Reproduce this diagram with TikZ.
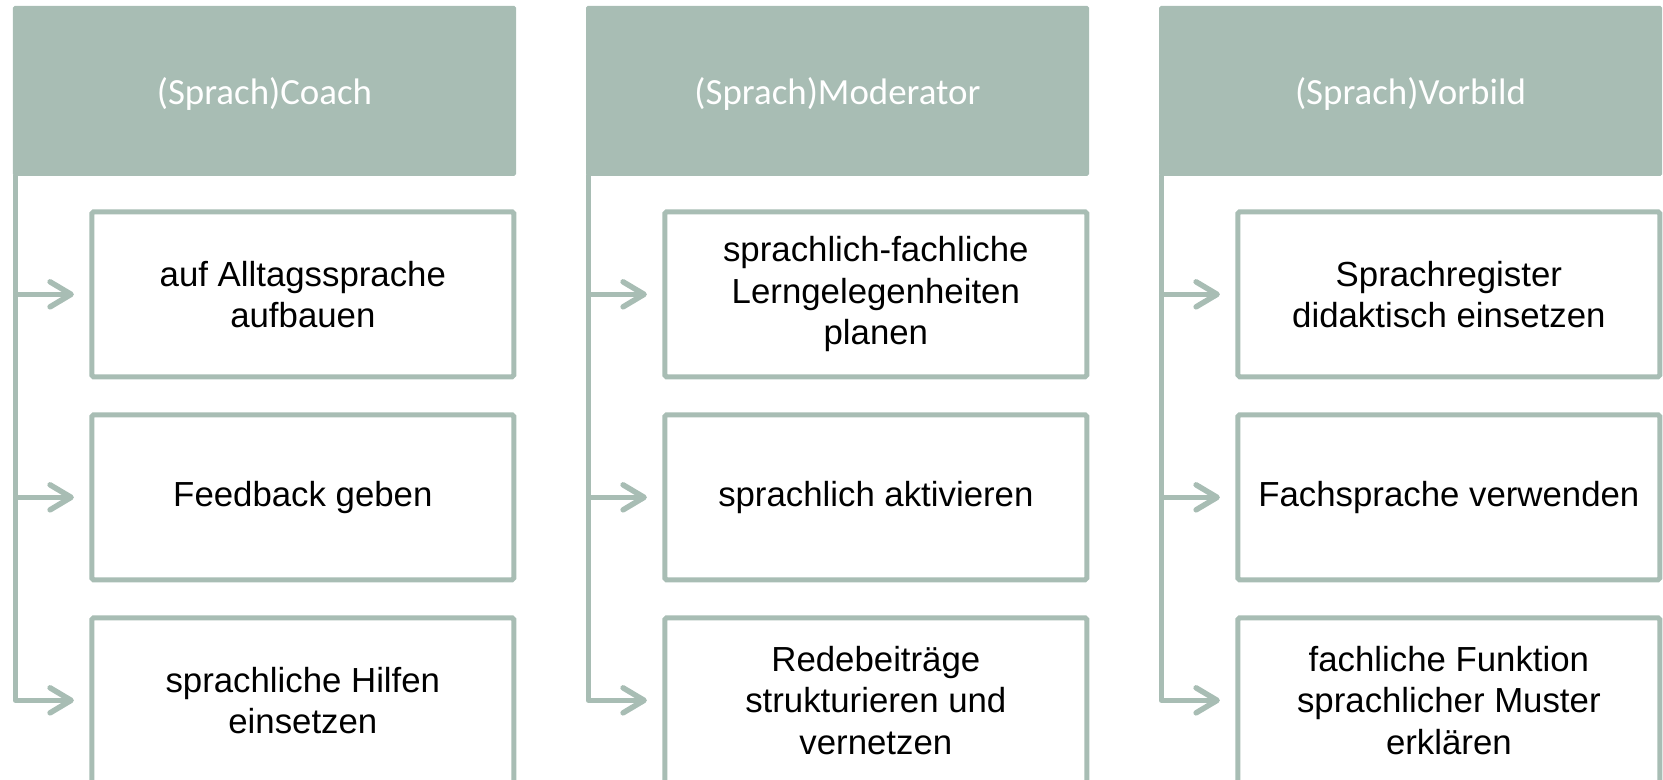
\documentclass[tikz,border=0pt]{standalone}
\usepackage{fontspec}
\setmainfont{Liberation Sans}
\newfontfamily\hdrfont{Carlito}
\usetikzlibrary{positioning,arrows.meta}
\definecolor{sage}{RGB}{168,189,180}
\begin{document}
\begin{tikzpicture}[
        hdr/.style={rectangle, fill=sage, rounded corners=1pt, inner sep=0pt,
                    minimum width=10.06cm, minimum height=3.4cm,
                    text height=20pt, text depth=4.5pt,
                    text=white, font=\hdrfont\fontsize{21}{25}\selectfont},
        task/.style={rectangle, draw=sage, line width=0.1cm, rounded corners=1pt,
                     fill=white, inner sep=2pt, outer sep=0pt, align=center,
                     minimum width=8.44cm, minimum height=3.3cm,
                     font=\fontsize{19.8}{23.6}\selectfont},
        branch/.style={draw=sage, line width=0.11cm, line cap=round, line join=round,
                       -{Straight Barb[length=0.42cm, width=0.5cm, round]},
                       shorten >=0.36cm},
        node distance=0.76cm]

        \useasboundingbox (0,0) rectangle (33.26,15.6);

        % ==================== 第一列：Coach ====================
        \begin{scope}[shift={(0,0)}]
            \node[hdr] (coach) at (5.29,13.78) {(Sprach)Coach};

            \node[task, below left=0.71cm and 0.05cm of coach.south east] (coachA) {auf Alltagssprache\\aufbauen};
            \node[task, below=of coachA] (coachB) {Feedback geben};
            \node[task, below=of coachB] (coachC) {sprachliche Hilfen\\einsetzen};

            % Verbindungslinien
            \draw[branch] ([xshift=0.055cm]coach.south west) |- (coachA.west);
            \draw[branch] ([xshift=0.055cm]coach.south west) |- (coachB.west);
            \draw[branch] ([xshift=0.055cm]coach.south west) |- (coachC.west);
        \end{scope}

        % ==================== 第二列：Moderator ====================
        \begin{scope}[shift={(11.46,0)}]
            \node[hdr] (moder) at (5.29,13.78) {(Sprach)Moderator};

            \node[task, below left=0.71cm and 0.05cm of moder.south east] (moderA) {sprachlich-fachliche\\Lerngelegenheiten\\planen};
            \node[task, below=of moderA] (moderB) {sprachlich aktivieren};
            \node[task, below=of moderB] (moderC) {Redebeiträge\\strukturieren und\\vernetzen};

            % Verbindungslinien
            \draw[branch] ([xshift=0.055cm]moder.south west) |- (moderA.west);
            \draw[branch] ([xshift=0.055cm]moder.south west) |- (moderB.west);
            \draw[branch] ([xshift=0.055cm]moder.south west) |- (moderC.west);
        \end{scope}

        % ==================== 第三列：Vorbild ====================
        \begin{scope}[shift={(22.92,0)}]
            \node[hdr] (vorb) at (5.29,13.78) {(Sprach)Vorbild};

            \node[task, below left=0.71cm and 0.05cm of vorb.south east] (vorbA) {Sprachregister\\didaktisch einsetzen};
            \node[task, below=of vorbA] (vorbB) {Fachsprache verwenden};
            \node[task, below=of vorbB] (vorbC) {fachliche Funktion\\sprachlicher Muster\\erklären};

            % Verbindungslinien
            \draw[branch] ([xshift=0.055cm]vorb.south west) |- (vorbA.west);
            \draw[branch] ([xshift=0.055cm]vorb.south west) |- (vorbB.west);
            \draw[branch] ([xshift=0.055cm]vorb.south west) |- (vorbC.west);
        \end{scope}

    \end{tikzpicture}
\end{document}
